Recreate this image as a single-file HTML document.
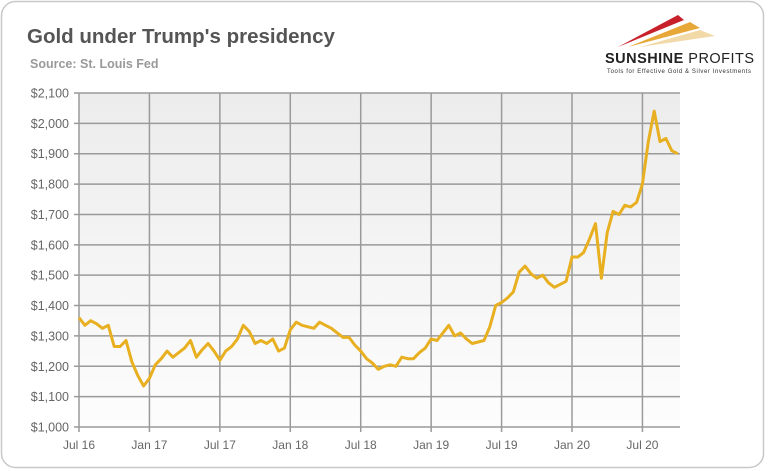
<!DOCTYPE html>
<html><head><meta charset="utf-8"><style>
body{margin:0;background:#fff;}
svg{display:block;font-family:"Liberation Sans",sans-serif;}
</style></head><body>
<svg width="768" height="471" viewBox="0 0 768 471">
<defs>
<linearGradient id="bg" x1="0" y1="0" x2="0" y2="1"><stop offset="0" stop-color="#ececec"/><stop offset="1" stop-color="#fdfdfd"/></linearGradient>
</defs>
<rect x="1.5" y="1.5" width="762" height="466" rx="14" fill="#fff" stroke="#c8c8c8" stroke-width="1.5"/>
<text x="27" y="43" font-size="20.5" font-weight="bold" fill="#555">Gold under Trump's presidency</text>
<text x="30" y="68" font-size="12.5" font-weight="bold" fill="#999">Source: St. Louis Fed</text>
<g>
<polygon points="618,47 678,15 684,20" fill="#c8202a"/>
<polygon points="628,47 690,22 700,28" fill="#e8a838"/>
<polygon points="640,47 700,30 715,36" fill="#f2d9a8"/>
<text x="605" y="63" font-size="14.5" font-weight="bold" fill="#222" textLength="149">SUNSHINE <tspan font-weight="normal">PROFITS</tspan></text>
<text x="607" y="73" font-size="6" fill="#333" textLength="144">Tools for Effective Gold &amp; Silver Investments</text>
</g>
<rect x="79" y="93" width="601" height="334" fill="url(#bg)"/>
<g id="grid"></g><g id="ylab"></g><g id="xlab"></g>
<path id="line" fill="none" stroke="#e8b020" stroke-width="3" stroke-linejoin="round"/>
</svg>
<script>
const yTicks=[1000,1100,1200,1300,1400,1500,1600,1700,1800,1900,2000,2100];
const xTickLabels=["Jul 16","Jan 17","Jul 17","Jan 18","Jul 18","Jan 19","Jul 19","Jan 20","Jul 20"];
const xTickMonths=[0,6,12,18,24,30,36,42,48];
const prices=[1360,1335,1350,1340,1325,1335,1265,1265,1285,1215,1170,1135,
1160,1205,1225,1250,1230,1245,1260,1285,1230,1255,1275,1250,1220,1250,1265,1290,1335,1315,1275,1285,1275,1290,1250,1260,
1320,1345,1335,1330,1325,1345,1335,1325,1310,1295,1295,1270,1250,1225,1210,1190,1200,1205,1200,1230,1225,1225,1245,1260,
1290,1285,1310,1335,1300,1310,1290,1275,1280,1285,1330,1400,1410,1425,1445,1510,1530,1505,1490,1500,1475,1460,1470,1480,
1560,1560,1575,1620,1670,1490,1640,1710,1700,1730,1725,1740,1800,1940,2040,1940,1950,1910,1900];
const priceMonths=prices.map((v,i)=>i*0.5);
const ns="http://www.w3.org/2000/svg";
const X=m=>79+m*(601/51.2);
const Y=v=>427-(v-1000)*(334/1100);
const grid=document.getElementById('grid'),yl=document.getElementById('ylab'),xl=document.getElementById('xlab');
yTicks.forEach(t=>{
 const l=document.createElementNS(ns,'line');
 
 
 l.setAttribute('x1',74);l.setAttribute('x2',680);l.setAttribute('y1',Y(t));l.setAttribute('y2',Y(t));
 l.setAttribute('stroke','#9a9a9a');l.setAttribute('stroke-width','1.5');grid.appendChild(l);
 const tx=document.createElementNS(ns,'text');
 
 
 tx.setAttribute('x',69);tx.setAttribute('y',Y(t)+4.5);tx.setAttribute('text-anchor','end');
 tx.setAttribute('font-size','12.5');tx.setAttribute('fill','#666');
 tx.textContent='$'+t.toLocaleString('en-US');yl.appendChild(tx);
});
xTickMonths.forEach((m,i)=>{
 const l=document.createElementNS(ns,'line');
 
 
 l.setAttribute('x1',X(m));l.setAttribute('x2',X(m));l.setAttribute('y1',93);l.setAttribute('y2',432);
 l.setAttribute('stroke','#9a9a9a');l.setAttribute('stroke-width','1.5');grid.appendChild(l);
 const tx=document.createElementNS(ns,'text');
 
 
 tx.setAttribute('x',X(m));tx.setAttribute('y',449);tx.setAttribute('text-anchor','middle');
 tx.setAttribute('font-size','12');tx.setAttribute('fill','#666');
 tx.textContent=xTickLabels[i];xl.appendChild(tx);
});
document.getElementById('line').setAttribute('d',prices.map((v,i)=>(i?'L':'M')+X(priceMonths[i]).toFixed(1)+','+Y(v).toFixed(1)).join(''));
</script>
</body></html>
